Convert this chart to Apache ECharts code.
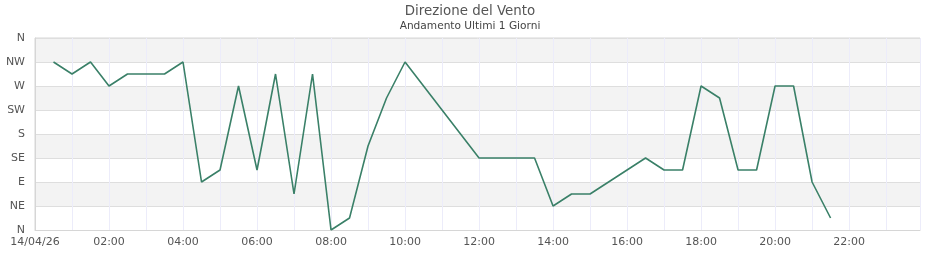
<!DOCTYPE html>
<html>
<head>
<meta charset="utf-8">
<script src="https://cdn.jsdelivr.net/npm/echarts@6/dist/echarts.min.js"></script>
<style>html,body{margin:0;padding:0;background:#fff}#c{width:940px;height:260px}</style>
</head>
<body>
<div id="c"></div>
<script>
const times = ["00:30","01:00","01:30","02:00","02:30","03:00","03:30","04:00","04:30","05:00","05:30","06:00","06:30","07:00","07:30","08:00","08:30","09:00","09:30","10:00","10:30","11:00","11:30","12:00","12:30","13:00","13:30","14:00","14:30","15:00","15:30","16:00","16:30","17:00","17:30","18:00","18:30","19:00","19:30","20:00","20:30","21:00","21:30"];
const direction = [315,292.5,315,270,292.5,292.5,292.5,315,90,112.5,270,112.5,292.5,67.5,292.5,0,22.5,157.5,247.5,315,270,225,180,135,135,135,135,45,67.5,67.5,90,112.5,135,112.5,112.5,270,247.5,112.5,112.5,270,270,90,22.5];
const yLabels = ["N","NE","E","SE","S","SW","W","NW","N"];
const dateLabel = "14/04/26";
const title = "Direzione del Vento";
const subtitle = "Andamento Ultimi 1 Giorni";
const axisEnd = "23:55";

function toHours(t){const p=t.split(":");return +p[0]+ (+p[1])/60;}
const data = times.map((t,i)=>[toHours(t), direction[i]]);
const font = "DejaVu Sans";
const chart = echarts.init(document.getElementById('c'));
chart.setOption({
  animation:false,
  title:{text:title, subtext:subtitle, left:'center', top:0, itemGap:3,
    textStyle:{fontFamily:font,fontSize:13.4,fontWeight:'normal',color:'#555'},
    subtextStyle:{fontFamily:font,fontSize:10.6,color:'#444'}},
  grid:{left:35,right:20,top:38,bottom:30,show:true,borderColor:'#d6d6d6',borderWidth:1,backgroundColor:'transparent'},
  xAxis:{type:'value',min:0,max:toHours(axisEnd),interval:1,
    axisLine:{show:true,lineStyle:{color:'#d6d6d6'}},axisTick:{show:false},
    splitLine:{show:true,lineStyle:{color:'#ececfa',width:1}},
    axisLabel:{fontFamily:font,fontSize:11,color:'#555',margin:7,showMaxLabel:false,
      formatter:function(v){ if(v===0) return dateLabel; if(v%2!==0||v>=24||v%1!==0) return ''; return (v<10?'0':'')+v+':00';}}},
  yAxis:{type:'value',min:0,max:360,interval:45,
    axisLine:{show:true,lineStyle:{color:'#d6d6d6'}},axisTick:{show:false},
    splitLine:{show:true,lineStyle:{color:'#dedede'}},
    splitArea:{show:true,areaStyle:{color:['#ffffff','#f3f3f3']}},
    axisLabel:{fontFamily:font,fontSize:11,color:'#555',margin:10,
      formatter:function(v){return yLabels[Math.round(v/45)];}}},
  series:[{type:'line',data:data,showSymbol:false,
    lineStyle:{color:'#3a8068',width:1.6},itemStyle:{color:'#3a8068'}}]
});
</script>
</body>
</html>
